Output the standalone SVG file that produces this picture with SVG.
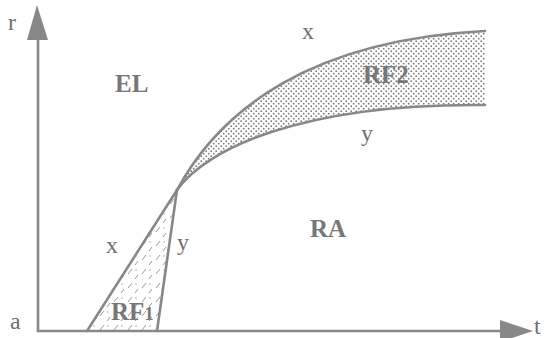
<svg xmlns="http://www.w3.org/2000/svg" width="545" height="338" viewBox="0 0 545 338">
<style>
.ln{fill:none;stroke:#888;stroke-width:2.6;stroke-linecap:round}
.ah{fill:#888;stroke:none}
.lab{font-family:"Liberation Serif",serif;font-size:24px;fill:#707070}
.big{font-family:"Liberation Serif",serif;font-size:25px;font-weight:bold;fill:#777}
</style>
<defs>
<pattern id="dots" width="5" height="5" patternUnits="userSpaceOnUse">
<circle cx="1.2" cy="1.2" r="0.9" fill="#7a7a7a"/>
<circle cx="3.7" cy="3.7" r="0.9" fill="#7a7a7a"/>
</pattern>
<pattern id="dash" width="14" height="14" patternUnits="userSpaceOnUse">
<line x1="2" y1="8" x2="6" y2="3" stroke="#999" stroke-width="1"/>
<line x1="9" y1="13" x2="12" y2="9" stroke="#999" stroke-width="1"/>
<circle cx="10" cy="4" r="0.7" fill="#999"/>
</pattern>
</defs>
<g id="RF2">
<path d="M177,190 C220,110 310,40 485,31 L485,105 C300,103 205,150 177,190 Z" fill="url(#dots)"/>
<text class="big" x="363" y="83">RF2</text>
</g>
<g id="RF1">
<path d="M87,331 L177,190 L157,331 Z" fill="url(#dash)"/>
<text class="big" x="111" y="320">RF<tspan font-size="19">1</tspan></text>
</g>
<g id="EL"><text class="big" x="115" y="92">EL</text></g>
<g id="RA"><text class="big" x="310" y="237">RA</text></g>
<g id="connectors">
<line class="ln" x1="38" y1="331" x2="38" y2="36"/>
<polygon class="ah" points="37,5 27,40 48,40"/>
<line class="ln" x1="38" y1="331" x2="505" y2="331"/>
<polygon class="ah" points="533,331 500,320 500,342"/>
<path class="ln" d="M87,331 L177,190"/>
<path class="ln" d="M157,331 L177,190"/>
<path class="ln" d="M177,190 C220,110 310,40 485,31"/>
<path class="ln" d="M177,190 C205,150 300,103 485,105"/>
</g>
<g id="labels">
<text class="lab" x="8" y="30">r</text>
<text class="lab" x="10" y="329">a</text>
<text class="lab" x="534" y="334" font-size="19">t</text>
<text class="lab" x="302" y="39">x</text>
<text class="lab" x="361" y="141">y</text>
<text class="lab" x="106" y="253">x</text>
<text class="lab" x="177" y="250">y</text>
</g>
</svg>
